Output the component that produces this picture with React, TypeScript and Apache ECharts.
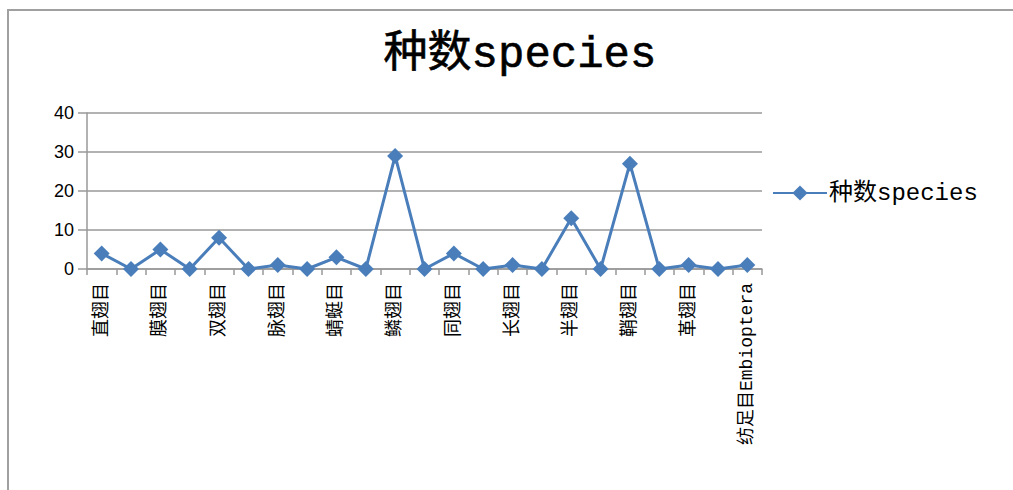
import React, { useEffect, useRef } from "react";
import * as echarts from "echarts";

const categories = [
  "直翅目", "", "膜翅目", "", "双翅目", "", "脉翅目", "", "蜻蜓目", "", "鳞翅目", "",
  "同翅目", "", "长翅目", "", "半翅目", "", "鞘翅目", "", "革翅目", "", "纺足目Embioptera",
];
const speciesValues = [4, 0, 5, 0, 8, 0, 1, 0, 3, 0, 29, 0, 4, 0, 1, 0, 13, 0, 27, 0, 1, 0, 1];
const seriesName = "种数species";
const titleText = "种数species";

export default function App() {
  const ref = useRef<HTMLDivElement>(null);
  useEffect(() => {
    if (!ref.current) return;
    const chart = echarts.init(ref.current, null, { renderer: "svg" });
    const blue = "#4a7ebb";
    const gray = "#999999";
    chart.setOption({
      animation: false,
      backgroundColor: "#ffffff",
      title: {
        text: titleText,
        left: 515,
        textAlign: "center",
        top: 28,
        textStyle: {
          fontFamily: "'Liberation Mono', 'Noto Sans CJK SC', monospace",
          fontSize: 44,
          fontWeight: "normal",
          color: "#000",
          textBorderColor: "#000",
          textBorderWidth: 0.6,
        },
      },
      legend: {
        left: 767,
        top: 176,
        itemWidth: 54,
        itemHeight: 19,
        itemGap: 4,
        data: [{ name: seriesName }],
        textStyle: {
          fontFamily: "'Liberation Mono', 'Noto Sans CJK SC', monospace",
          fontSize: 24,
          color: "#000",
          padding: [0, 0, 0, -3],
        },
      },
      graphic: [
        {
          type: "rect",
          shape: { x: 8, y: 10, width: 1020, height: 500 },
          style: { fill: "none", stroke: "#a0a0a0", lineWidth: 2 },
          silent: true,
        },
      ],
      grid: { left: 87, right: 251, top: 113, bottom: 221, containLabel: false },
      xAxis: {
        type: "category",
        data: categories,
        boundaryGap: true,
        axisLine: { lineStyle: { color: gray, width: 1.5 } },
        axisTick: { show: true, interval: 0, length: 6, lineStyle: { color: gray, width: 1.5 } },
        axisLabel: {
          interval: 0,
          rotate: 90,
          margin: 14,
          fontSize: 18,
          color: "#000",
          fontFamily: "'Liberation Mono', 'Noto Sans CJK SC', monospace",
        },
      },
      yAxis: {
        type: "value",
        min: 0,
        max: 40,
        interval: 10,
        axisLine: { show: true, lineStyle: { color: gray, width: 1.5 } },
        axisTick: { show: true, length: 9, lineStyle: { color: gray, width: 1.5 } },
        splitLine: { show: true, lineStyle: { color: gray, width: 1.5 } },
        axisLabel: {
          margin: 13,
          fontSize: 18,
          color: "#000",
          fontFamily: "'Liberation Sans', Arial, sans-serif",
        },
      },
      series: [
        {
          name: seriesName,
          type: "line",
          data: speciesValues,
          symbol: "diamond",
          symbolSize: 16,
          itemStyle: { color: blue },
          lineStyle: { color: blue, width: 3 },
        },
      ],
    });
    return () => chart.dispose();
  }, []);
  return (
    <div
      ref={ref}
      style={{ position: "fixed", left: 0, top: 0, width: 1013, height: 490 }}
    />
  );
}
